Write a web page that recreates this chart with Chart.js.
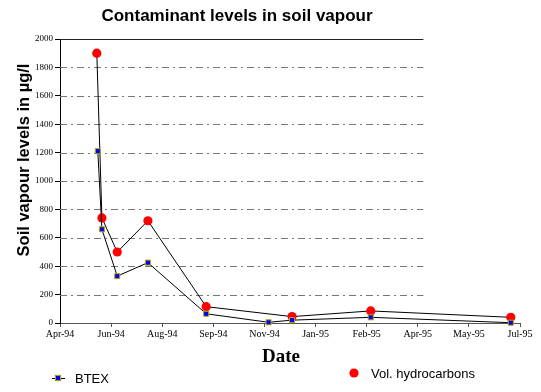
<!DOCTYPE html>
<html>
<head>
<meta charset="utf-8">
<script src="https://cdn.jsdelivr.net/npm/chart.js@4/dist/chart.umd.min.js"></script>
<style>
  html, body { margin: 0; padding: 0; background: #fff; }
  #wrap { width: 541px; height: 392px; position: relative; }
</style>
</head>
<body>
<div id="wrap"><canvas id="chart"></canvas></div>
<script>
// soil vapour readings
const btexDates = ['1994-06-02', '1994-06-06', '1994-06-21', '1994-07-21', '1994-09-16', '1994-11-16', '1994-12-09', '1995-02-24', '1995-07-11'];
const btexValues = [1210, 660, 330, 425, 65, 5, 20, 40, 2];

const volDates = ['1994-06-01', '1994-06-06', '1994-06-21', '1994-07-21', '1994-09-16', '1994-12-09', '1995-02-24', '1995-07-11'];
const volValues = [1900, 740, 500, 720, 115, 45, 85, 40];

const tickLabels = ['Apr-94', 'Jun-94', 'Aug-94', 'Sep-94', 'Nov-94', 'Jan-95', 'Feb-95', 'Apr-95', 'May-95', 'Jul-95'];
const tickStart = '1994-04-26';
const tickStep = 50; // days between date ticks

function toDay(s) {
    const p = s.split('-').map(Number);
    return Date.UTC(p[0], p[1] - 1, p[2]) / 864e5;
}

const xMin = toDay(tickStart);
const tickValues = tickLabels.map((l, i) => xMin + i * tickStep);

function pts(dates, vals) {
    return dates.map((d, i) => ({ x: toDay(d), y: vals[i] }));
}

// dashed grid that stops short of the right edge, like the scan
const gridPlugin = {
    id: 'shortGrid',
    beforeDatasetsDraw(chart) {
        const ctx = chart.ctx;
        const a = chart.chartArea;
        const y = chart.scales.y;
        const end = a.left + 0.79 * (a.right - a.left);
        ctx.save();
        y.ticks.forEach(t => {
            if (t.value === 0) return;
            const py = Math.round(y.getPixelForValue(t.value)) + 0.5;
            ctx.beginPath();
            if (t.value === 2000) {
                ctx.setLineDash([]);
                ctx.strokeStyle = '#222';
            } else {
                ctx.setLineDash([7, 4, 2, 4]);
                ctx.strokeStyle = '#777';
            }
            ctx.lineWidth = 1;
            ctx.moveTo(a.left, py);
            ctx.lineTo(end, py);
            ctx.stroke();
        });
        ctx.restore();
    }
};

// titles and the split legend
const decorPlugin = {
    id: 'decor',
    afterDraw(chart) {
        const ctx = chart.ctx;
        const ds = chart.data.datasets;
        ctx.save();
        ctx.fillStyle = '#000';

        ctx.font = 'bold 17px "Liberation Sans", Arial, sans-serif';
        ctx.textAlign = 'center';
        ctx.textBaseline = 'alphabetic';
        ctx.fillText('Contaminant levels in soil vapour', 237, 21);

        ctx.save();
        ctx.translate(29, 160);
        ctx.rotate(-Math.PI / 2);
        ctx.font = 'bold 16.5px "Liberation Sans", Arial, sans-serif';
        ctx.fillText('Soil vapour levels in µg/l', 0, 0);
        ctx.restore();

        ctx.font = 'bold 19px "Liberation Serif", "Times New Roman", serif';
        ctx.fillText('Date', 281, 362);

        // BTEX legend entry
        ctx.strokeStyle = '#000';
        ctx.lineWidth = 1;
        ctx.beginPath();
        ctx.moveTo(52, 378.5);
        ctx.lineTo(65, 378.5);
        ctx.stroke();
        Chart.helpers.drawPoint(ctx, {
            pointStyle: ds[0].pointStyle, radius: ds[0].pointRadius,
            borderWidth: ds[0].pointBorderWidth
        }, 58, 378);
        ctx.fillStyle = ds[0].pointBackgroundColor;
        ctx.strokeStyle = ds[0].pointBorderColor;
        ctx.fill();
        ctx.stroke();

        // Vol. hydrocarbons legend entry
        ctx.fillStyle = ds[1].pointBackgroundColor;
        ctx.beginPath();
        ctx.arc(354, 373, ds[1].pointRadius, 0, Math.PI * 2);
        ctx.fill();

        ctx.fillStyle = '#000';
        ctx.textAlign = 'left';
        ctx.font = '13px "Liberation Sans", Arial, sans-serif';
        ctx.fillText(ds[0].label, 75, 383);
        ctx.fillText(ds[1].label, 371, 378);
        ctx.restore();
    }
};

const serif = '"Liberation Serif", "Times New Roman", serif';

new Chart(document.getElementById('chart'), {
    type: 'scatter',
    data: {
        datasets: [{
            label: 'BTEX',
            data: pts(btexDates, btexValues),
            showLine: true,
            borderColor: '#000',
            borderWidth: 1,
            pointStyle: 'rect',
            pointRadius: 3.6,
            pointBackgroundColor: '#0000ff',
            pointBorderColor: '#b8a800',
            pointBorderWidth: 1,
            clip: false
        }, {
            label: 'Vol. hydrocarbons',
            data: pts(volDates, volValues),
            showLine: true,
            borderColor: '#000',
            borderWidth: 1,
            pointStyle: 'circle',
            pointRadius: 4.6,
            pointBackgroundColor: '#ff0000',
            pointBorderColor: '#ff0000',
            pointBorderWidth: 0,
            clip: false
        }]
    },
    options: {
        responsive: true,
        maintainAspectRatio: false,
        animation: false,
        layout: { padding: { top: 39, right: 21, left: 0, bottom: 0 } },
        plugins: {
            legend: { display: false },
            title: { display: false },
            tooltip: { enabled: false }
        },
        scales: {
            x: {
                type: 'linear',
                min: xMin,
                max: xMin + 9 * tickStep,
                afterBuildTicks: s => { s.ticks = tickValues.map(v => ({ value: v })); },
                afterFit: s => { s.height = 69; },
                ticks: {
                    autoSkip: false,
                    maxRotation: 0,
                    color: '#000',
                    padding: 1,
                    font: { family: serif, size: 10 },
                    callback: (v, i) => tickLabels[i]
                },
                grid: { drawOnChartArea: false, drawTicks: true, tickLength: 4, color: '#555' },
                border: { display: true, color: '#555', width: 1 }
            },
            y: {
                min: 0,
                max: 2000,
                afterFit: s => { s.width = 60; },
                ticks: {
                    stepSize: 200,
                    color: '#000',
                    padding: 2,
                    font: { family: serif, size: 9 },
                    callback: v => String(v)
                },
                grid: { drawOnChartArea: false, drawTicks: true, tickLength: 5, color: '#000' },
                border: { display: true, color: '#000', width: 1 }
            }
        }
    },
    plugins: [gridPlugin, decorPlugin]
});
</script>
</body>
</html>
